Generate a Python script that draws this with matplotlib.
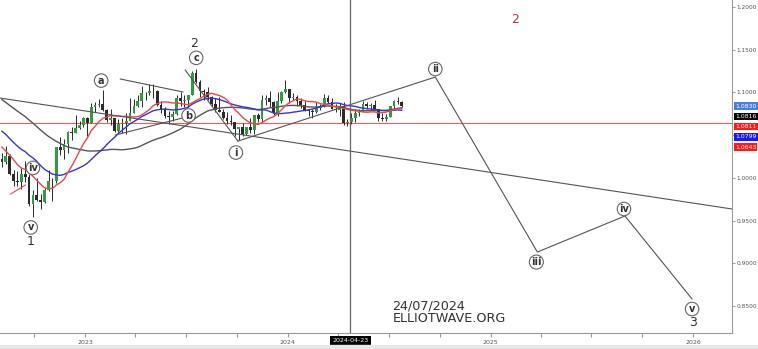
import numpy as np
import pandas as pd
import matplotlib
matplotlib.use("Agg")
import matplotlib.pyplot as plt
import matplotlib.dates as mdates
from matplotlib.patches import Rectangle

# weekly closes before the visible window, weeks ending 2021-10-01 .. 2022-07-29 (only warm up the averages)
warmup_close = [1.1595, 1.1572, 1.1600, 1.1645, 1.1560, 1.1567, 1.1445, 1.1290, 1.1320, 1.1315,
                1.1315, 1.1240, 1.1320, 1.1370,
                1.1360, 1.1410, 1.1345, 1.1145, 1.1450, 1.1350, 1.1320, 1.1270, 1.0930, 1.0910,
                1.1050, 1.0985, 1.1045, 1.0875, 1.0810, 1.0795, 1.0545, 1.0550, 1.0410, 1.0560,
                1.0730, 1.0720, 1.0520, 1.0495, 1.0555, 1.0425, 1.0185, 1.0080, 1.0210, 1.0225]

# visible weekly bars, weeks starting 2022-08-01 .. 2024-07-22
close = [1.0180, 1.0260, 1.0040, 0.9965, 0.9955, 1.0045, 1.0015, 0.9690, 0.9800, 0.9740,
         0.9720, 0.9860, 0.9965, 0.9960, 1.0355, 1.0325, 1.0400, 1.0535, 1.0530, 1.0585,
         1.0620, 1.0705,
         1.0645, 1.0830, 1.0855, 1.0870, 1.0795, 1.0680, 1.0695, 1.0545, 1.0635, 1.0640,
         1.0670, 1.0760, 1.0840, 1.0905, 1.0990, 1.0990, 1.1015, 1.1020, 1.0850, 1.0805,
         1.0720, 1.0710, 1.0750, 1.0940, 1.0895, 1.0910, 1.0970, 1.1230, 1.1125, 1.1015,
         1.1005, 1.0945, 1.0870, 1.0795, 1.0775, 1.0700, 1.0660, 1.0650, 1.0575, 1.0590,
         1.0510, 1.0595, 1.0565, 1.0730, 1.0685, 1.0915, 1.0940, 1.0885, 1.0760, 1.0895,
         1.1010, 1.1040,
         1.0940, 1.0950, 1.0900, 1.0850, 1.0790, 1.0785, 1.0775, 1.0820, 1.0840, 1.0940,
         1.0890, 1.0810, 1.0790, 1.0840, 1.0640, 1.0655, 1.0695, 1.0760, 1.0770, 1.0870,
         1.0845, 1.0850, 1.0800, 1.0705, 1.0690, 1.0715, 1.0840, 1.0905, 1.0885, 1.0845]
high = [1.0294, 1.0368, 1.0275, 1.0090, 1.0080, 1.0113, 1.0198, 1.0050, 0.9855, 0.9999,
        0.9810, 0.9875, 1.0094, 1.0000, 1.0365, 1.0480, 1.0450, 1.0545, 1.0595, 1.0736,
        1.0660, 1.0715,
        1.0710, 1.0875, 1.0890, 1.0925, 1.1033, 1.0805, 1.0805, 1.0695, 1.0690, 1.0695,
        1.0760, 1.0930, 1.0925, 1.0973, 1.1075, 1.1000, 1.1095, 1.1093, 1.1030, 1.0905,
        1.0830, 1.0780, 1.0785, 1.0970, 1.1010, 1.0975, 1.0975, 1.1245, 1.1276, 1.1150,
        1.1045, 1.1065, 1.0960, 1.0930, 1.0945, 1.0800, 1.0770, 1.0735, 1.0655, 1.0600,
        1.0640, 1.0600, 1.0695, 1.0740, 1.0755, 1.0965, 1.0965, 1.1015, 1.0895, 1.1005,
        1.1015, 1.1140,
        1.1045, 1.0998, 1.0965, 1.0935, 1.0895, 1.0805, 1.0805, 1.0890, 1.0865, 1.0980,
        1.0965, 1.0940, 1.0865, 1.0875, 1.0885, 1.0690, 1.0755, 1.0810, 1.0810, 1.0895,
        1.0890, 1.0880, 1.0915, 1.0810, 1.0760, 1.0750, 1.0845, 1.0910, 1.0950, 1.0895]
low = [1.0123, 1.0160, 1.0035, 0.9900, 0.9910, 0.9865, 0.9955, 0.9670, 0.9536, 0.9730,
       0.9632, 0.9705, 0.9850, 0.9730, 0.9935, 1.0270, 1.0225, 1.0290, 1.0445, 1.0520,
       1.0575, 1.0590,
       1.0485, 1.0640, 1.0765, 1.0835, 1.0785, 1.0655, 1.0613, 1.0535, 1.0533, 1.0525,
       1.0516, 1.0665, 1.0760, 1.0835, 1.0830, 1.0910, 1.0965, 1.0940, 1.0845, 1.0760,
       1.0705, 1.0635, 1.0665, 1.0730, 1.0845, 1.0835, 1.0835, 1.0970, 1.1115, 1.0945,
       1.0910, 1.0915, 1.0845, 1.0765, 1.0770, 1.0685, 1.0630, 1.0615, 1.0490, 1.0448,
       1.0495, 1.0500, 1.0520, 1.0515, 1.0655, 1.0655, 1.0850, 1.0830, 1.0725, 1.0725,
       1.0880, 1.0995,
       1.0880, 1.0915, 1.0845, 1.0820, 1.0780, 1.0720, 1.0695, 1.0760, 1.0795, 1.0835,
       1.0880, 1.0800, 1.0775, 1.0725, 1.0622, 1.0601, 1.0625, 1.0650, 1.0725, 1.0765,
       1.0805, 1.0790, 1.0795, 1.0670, 1.0670, 1.0665, 1.0710, 1.0790, 1.0870, 1.0825]

# projected wave path i -> ii -> iii -> iv -> v
proj_dates = ["2023-10-03", "2024-09-23", "2025-03-26", "2025-08-31", "2025-12-30"]
proj_prices = [1.0430, 1.1180, 0.9131, 0.9553, 0.8581]

# hand drawn trend lines (start, end)
trend_lines = [
    (("2022-07-31", 1.0934), ("2026-03-12", 0.9635)),
    (("2023-06-30", 1.1262), ("2023-10-03", 1.0430)),
    (("2023-03-05", 1.1157), ("2023-06-26", 1.1005)),
    (("2023-02-24", 1.0501), ("2023-06-25", 1.0700)),
]
red_segment = (("2022-08-19", 0.9810), ("2022-09-15", 0.9916))
hline_level = 1.0643
cursor_date = "2024-04-23"

price_tags = ["1.0830", "1.0816", "1.0811", "1.0799", "1.0643"]
tag_colors = ["#4a7de0", "#000000", "#ff1818", "#1818ff", "#ff1818"]

# wave labels: text, anchor date, anchor price, offset in pixels
wave_labels = [
    ("v", "2022-09-28", 0.9536, -2, -10),
    ("iv", "2022-09-14", 1.0198, 8, -7),
    ("a", "2023-02-02", 1.1033, -2, 9),
    ("c", "2023-07-18", 1.1276, 1, 11),
    ("b", "2023-07-06", 1.0835, 0, -9),
    ("i", "2023-10-03", 1.0448, -2, -13),
    ("ii", proj_dates[1], proj_prices[1], 0, 8),
    ("iii", proj_dates[2], proj_prices[2], -1, -10),
    ("iv", proj_dates[3], proj_prices[3], -1, 7),
    ("v", proj_dates[4], proj_prices[4], 0, -10),
]
degree_labels = [
    ("1", "2022-09-28", 0.9536, -2, -24),
    ("2", "2023-07-18", 1.1276, -1, 25),
    ("3", proj_dates[4], proj_prices[4], 1, -23),
]

fig = plt.figure(figsize=(7.58, 3.49), dpi=100)
fig.patches.append(Rectangle((0, 0), 1, 4 / 349, transform=fig.transFigure,
                             color="#e8e8e8", zorder=0))
ax = fig.add_axes([0, 16 / 349, 732 / 758, 333 / 349])

weeks = pd.date_range("2022-08-01", periods=len(close), freq="W-MON")
x = mdates.date2num(weeks) + 2.5
all_close = pd.Series(warmup_close + close)
n0 = len(warmup_close)
opens = np.array(all_close.shift(1).iloc[n0:])
c = np.array(close)

ma_fast = all_close.rolling(10).mean().iloc[n0:].values
ma_mid = all_close.rolling(20).mean().iloc[n0:].values
ma_slow = all_close.rolling(40).mean().iloc[n0:].values

ax.axhline(hline_level, color="#ff5a5a", lw=0.8, zorder=1)

# candles
up = c >= opens
ax.vlines(x, low, high, color="#2a2a2a", lw=0.7, zorder=3)
ax.bar(x[up], c[up] - opens[up], bottom=opens[up], width=5, color="#2f9e40", zorder=4)
ax.bar(x[~up], c[~up] - opens[~up], bottom=opens[~up], width=5, color="#2b2b2b", zorder=4)

# moving averages
ax.plot(x, ma_slow, color="#555555", lw=1.0, zorder=5)
ax.plot(x, ma_mid, color="#3535d0", lw=1.0, zorder=5)
ax.plot(x, ma_fast, color="#e84848", lw=1.0, zorder=5)

for (d0, p0), (d1, p1) in trend_lines:
    ax.plot(pd.to_datetime([d0, d1]), [p0, p1], color="#555555", lw=0.8, zorder=6)
(d0, p0), (d1, p1) = red_segment
ax.plot(pd.to_datetime([d0, d1]), [p0, p1], color="#e84848", lw=0.8, zorder=6)

ax.plot(pd.to_datetime(proj_dates), proj_prices, color="#555555", lw=0.8, zorder=6)

ax.axvline(pd.Timestamp(cursor_date), color="#666666", lw=0.9, zorder=7)

for txt, d, p, dx, dy in wave_labels:
    ax.annotate(txt, (pd.Timestamp(d), p), xytext=(dx, dy), textcoords="offset pixels",
                ha="center", va="center", fontsize=7, fontweight="bold", color="#333333",
                zorder=9,
                bbox=dict(boxstyle="circle,pad=0.18", fc="white", ec="#666666", lw=0.8))
for txt, d, p, dx, dy in degree_labels:
    ax.annotate(txt, (pd.Timestamp(d), p), xytext=(dx, dy), textcoords="offset pixels",
                ha="center", va="center", fontsize=9, color="#333333", zorder=9)

ax.text(pd.Timestamp("2025-02-14"), 1.1848, "2", fontsize=9, color="#b33a3a",
        ha="center", va="center")
ax.text(pd.Timestamp("2024-07-08"), 0.8430, "24/07/2024\nELLIOTWAVE.ORG", fontsize=9.2,
        color="#333333", ha="left", va="center", linespacing=0.95)

ax.set_xlim(pd.Timestamp("2022-07-31"), pd.Timestamp("2026-03-12"))
ax.set_ylim(0.8183, 1.2082)

for s in ["left", "top"]:
    ax.spines[s].set_visible(False)
for s in ["right", "bottom"]:
    ax.spines[s].set_color("#9a9a9a")

ax.yaxis.tick_right()
ax.set_yticks(np.arange(0.85, 1.2001, 0.05))
ax.yaxis.set_major_formatter(matplotlib.ticker.FormatStrFormatter("%.4f"))
ax.tick_params(axis="y", length=2.5, color="#9a9a9a", labelsize=4.2, labelcolor="#555555", pad=1)

ax.xaxis.set_major_locator(mdates.MonthLocator(bymonth=[1, 4, 7, 10]))
ax.xaxis.set_major_formatter(mdates.DateFormatter("%Y"))
ax.tick_params(axis="x", length=3, color="#9a9a9a", labelsize=4.5, labelcolor="#555555", pad=2)
fig.canvas.draw()
for tick, lab in zip(ax.get_xticks(), ax.get_xticklabels()):
    if mdates.num2date(tick).month != 1:
        lab.set_visible(False)

ax.text(pd.Timestamp(cursor_date), -0.022, cursor_date, transform=ax.get_xaxis_transform(),
        ha="center", va="center", fontsize=4.5, color="white", zorder=10, clip_on=False,
        bbox=dict(boxstyle="square,pad=0.35", fc="black", ec="none"))

for i, (tag, col) in enumerate(zip(price_tags, tag_colors)):
    ypix = 106 + i * 10.3
    ax.text(1.004, (333 - ypix) / 333, tag, transform=ax.transAxes, ha="left", va="center",
            fontsize=4.4, color="white", clip_on=False, zorder=10,
            bbox=dict(boxstyle="square,pad=0.2", fc=col, ec="none"))

fig.savefig("out.png", dpi=100)
